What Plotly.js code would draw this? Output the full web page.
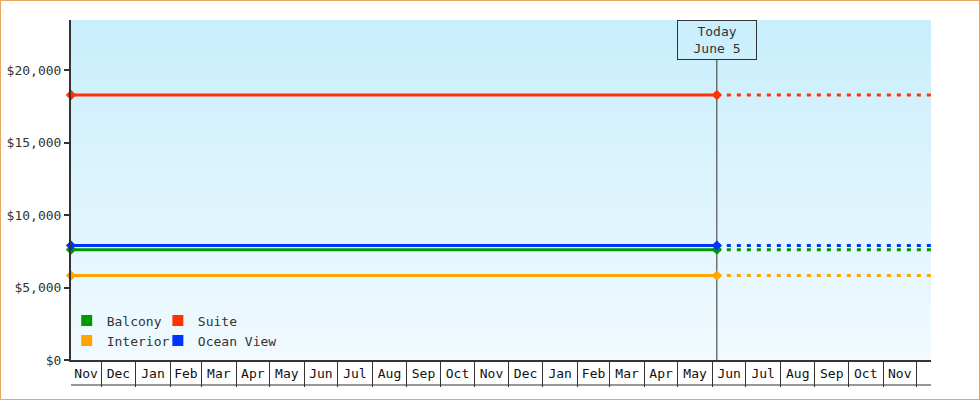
<!DOCTYPE html>
<html>
<head>
<meta charset="utf-8">
<script src="https://cdn.plot.ly/plotly-3.0.1.min.js"></script>
<style>
  body { margin: 0; background: #fff; }
  #chart { width: 978px; height: 398px; border: 1px solid #e8a862; }
</style>
</head>
<body>
<div id="chart"></div>
<script>
// dates on the time axis
const rangeStart = "2022-11-04";
const todayDate = "2024-06-05";
const rangeEnd = "2024-12-14";
const todayLabel = "Today<br>June 5";

// month boxes under the axis
const monthLabels = ["Nov", "Dec", "Jan", "Feb", "Mar", "Apr", "May", "Jun", "Jul", "Aug", "Sep", "Oct",
  "Nov", "Dec", "Jan", "Feb", "Mar", "Apr", "May", "Jun", "Jul", "Aug", "Sep", "Oct", "Nov"];
const firstMonth = [2022, 10]; // year, 0-based month of the first box

// cabin prices
const seriesNames = ["Balcony", "Suite", "Interior", "Ocean View"];
const prices = [7620, 18300, 5830, 7900];
const seriesColors = ["#009900", "#ff3300", "#ffa500", "#0033ff"];
const legendOf = ["legend", "legend2", "legend", "legend2"];

const FONT = "DejaVu Sans Mono, monospace";
const INK = "#333333";

function iso(ms) {
  return new Date(ms).toISOString().slice(0, 19).replace("T", " ");
}

const t0 = Date.parse(rangeStart), t1 = Date.parse(rangeEnd);
const monthStarts = [], labelPos = [];
for (let i = 0; i <= monthLabels.length; i++) {
  monthStarts.push(Date.UTC(firstMonth[0], firstMonth[1] + i, 1));
}
monthLabels.forEach((m, i) => {
  const a = Math.max(monthStarts[i], t0), b = Math.min(monthStarts[i + 1], t1);
  labelPos.push(iso((a + b) / 2));
});
const dividers = monthStarts.filter(t => t > t0 && t < t1).map(iso);

const traces = [];
// legend entries
seriesNames.forEach((name, i) => {
  traces.push({
    type: "scatter", mode: "markers", x: [null], y: [null], name: name,
    legend: legendOf[i],
    marker: { symbol: "square", size: 11, color: seriesColors[i] },
    hoverinfo: "skip"
  });
});
// forecast (dotted) part
seriesNames.forEach((name, i) => {
  traces.push({
    type: "scatter", mode: "lines", x: [todayDate, rangeEnd], y: [prices[i], prices[i]],
    line: { color: seriesColors[i], width: 3, dash: "4px,6px" },
    showlegend: false, hoverinfo: "skip", cliponaxis: false
  });
});
// history (solid) part
seriesNames.forEach((name, i) => {
  traces.push({
    type: "scatter", mode: "lines+markers", x: [rangeStart, todayDate], y: [prices[i], prices[i]],
    line: { color: seriesColors[i], width: 3 },
    marker: { symbol: "diamond", size: 8, color: seriesColors[i] },
    showlegend: false, name: name, cliponaxis: false
  });
});

const bg = "data:image/svg+xml;utf8," + encodeURIComponent(
  '<svg xmlns="http://www.w3.org/2000/svg" width="10" height="100" preserveAspectRatio="none">' +
  '<defs><linearGradient id="g" x1="0" y1="0" x2="0" y2="1">' +
  '<stop offset="0" stop-color="#c9eefc"/><stop offset="1" stop-color="#f1faff"/></linearGradient></defs>' +
  '<rect width="10" height="100" fill="url(#g)"/></svg>');

const legendBase = {
  orientation: "v", bgcolor: "rgba(0,0,0,0)", borderwidth: 0,
  font: { family: FONT, size: 13, color: INK },
  xanchor: "left", yanchor: "top", itemclick: false, itemdoubleclick: false
};

const layout = {
  width: 978, height: 398,
  margin: { l: 70, r: 48, t: 19, b: 39 },
  paper_bgcolor: "#ffffff",
  plot_bgcolor: "rgba(0,0,0,0)",
  font: { family: FONT, size: 13, color: INK },
  showlegend: true,
  legend: Object.assign({}, legendBase, { x: -0.005, y: 0.16 }),
  legend2: Object.assign({}, legendBase, { x: 0.101, y: 0.16 }),
  xaxis: {
    type: "date", range: [rangeStart, rangeEnd], fixedrange: true,
    showgrid: false, zeroline: false,
    showline: true, linecolor: INK, linewidth: 2,
    tickmode: "array", tickvals: labelPos, ticktext: monthLabels, ticks: "",
    tickfont: { family: FONT, size: 13, color: "#111" },
    minor: { tickmode: "array", tickvals: dividers, ticks: "outside", ticklen: 25, tickwidth: 1, tickcolor: INK, showgrid: false }
  },
  yaxis: {
    range: [0, 23480], fixedrange: true,
    tickmode: "linear", tick0: 0, dtick: 5000,
    tickprefix: "$", tickformat: ",d",
    showgrid: false, zeroline: false,
    showline: true, linecolor: INK, linewidth: 2,
    ticks: "outside", ticklen: 5, tickwidth: 2, tickcolor: INK
  },
  images: [{
    source: bg, xref: "paper", yref: "paper", x: 0, y: 1, sizex: 1, sizey: 1,
    xanchor: "left", yanchor: "top", sizing: "stretch", layer: "below"
  }],
  shapes: [
    { type: "line", xref: "x", x0: todayDate, x1: todayDate, yref: "paper", ysizemode: "pixel", yanchor: 0,
      y0: 0, y1: 300, line: { color: INK, width: 1 }, layer: "below" },
    { type: "line", xref: "paper", x0: 0, x1: 1, yref: "paper", ysizemode: "pixel", yanchor: 0,
      y0: -25, y1: -25, line: { color: INK, width: 1 } }
  ],
  annotations: [{
    x: todayDate, xref: "x", y: 1, yref: "paper", yanchor: "top", xanchor: "center",
    text: todayLabel, showarrow: false, align: "center",
    width: 78, height: 38, bordercolor: INK, borderwidth: 1, borderpad: 0,
    bgcolor: "rgba(0,0,0,0)", font: { family: FONT, size: 13, color: INK }
  }]
};

Plotly.newPlot("chart", traces, layout, { displayModeBar: false, staticPlot: true });
</script>
</body>
</html>
